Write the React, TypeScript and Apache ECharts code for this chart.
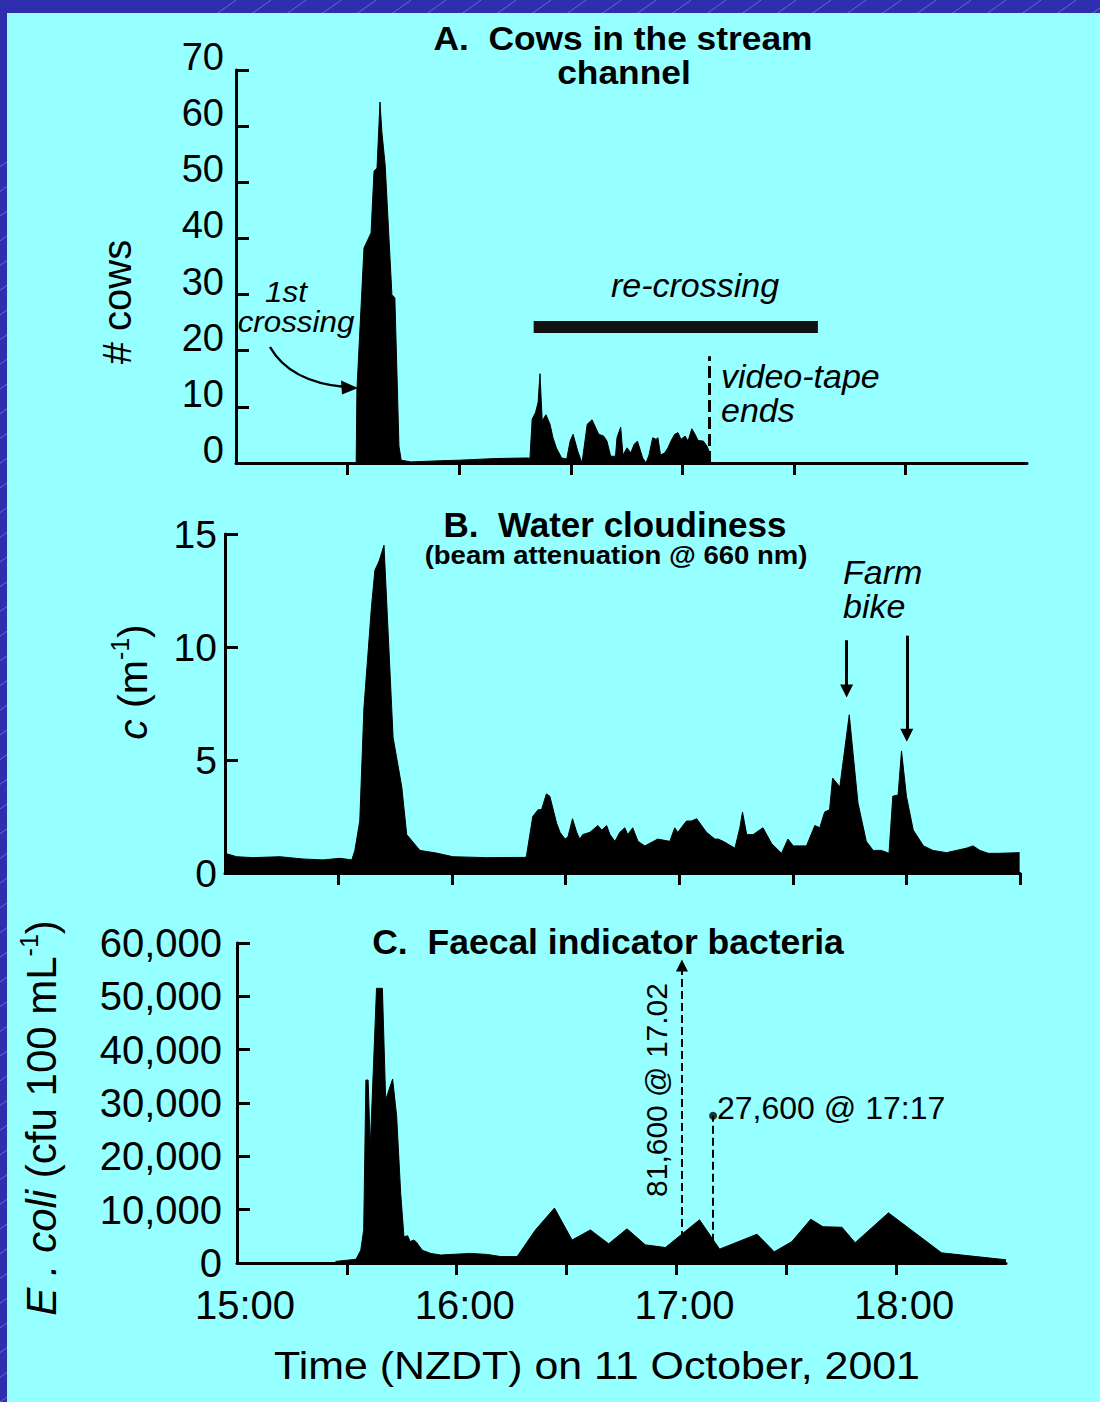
import React, { useEffect, useRef } from 'react';
import * as echarts from 'echarts';

// ---------- DATA (minutes after 15:00) ----------
// A. Cows in the stream channel
const cowsMinutes = [32.0, 32.3, 32.5, 34.4, 36.3, 37.1, 37.9, 38.7, 39.2, 40.1, 41.9, 42.7, 43.8, 44.4, 47, 55, 60, 70, 78.5, 79.0, 79.6, 80.5, 81.2, 81.7, 82.3, 83.3, 84.4, 85.2, 86.1, 87.5, 88.9, 89.8, 90.6, 91.9, 93.0, 94.4, 95.7, 97.5, 98.8, 99.7, 100.7, 102.0, 102.4, 103.4, 104.0, 105.1, 106.1, 107.0, 107.9, 109.3, 110.2, 111.0, 112.0, 112.9, 113.4, 114.1, 115.2, 116.1, 116.9, 117.9, 118.8, 119.6, 120.7, 121.5, 122.5, 123.4, 124.2, 125.6, 126.6, 127.2, 127.4];
const cowsCount = [0, 0, 13, 38.3, 41, 52, 52.5, 64.3, 59, 53, 30, 29.4, 3, 0.5, 0.2, 0.4, 0.5, 0.8, 0.9, 0.8, 7.8, 9, 10.8, 15.9, 7.5, 8.6, 6.9, 4.5, 2.7, 0.9, 0.7, 3.9, 5.1, 2, 0, 6.9, 7.7, 5.1, 4.8, 3.9, 1.2, 1.2, 4.5, 6.4, 1.4, 2.7, 1.8, 3.3, 3.9, 0.9, 0, 1.4, 4.5, 4.2, 4.5, 1.4, 1.8, 2.7, 3.9, 5.1, 5.4, 4.2, 4.8, 3.9, 6.1, 5.1, 4.0, 3.9, 3.0, 2.0, 0];
const recrossStart = 80;
const recrossEnd = 156.4;
const recrossLevel = 24.2;
const videoEndMin = 127.2;
const videoLineTop = 19;

// B. Water cloudiness
const cMinutes = [0, 3.1, 7.4, 14.5, 20.6, 25.9, 30.4, 33.5, 34.3, 35.6, 36.7, 38.7, 39.6, 40.7, 42.0, 44.4, 46.7, 48.0, 51.5, 55.9, 60.2, 69.1, 79.2, 79.6, 81.3, 82.7, 83.6, 84.9, 85.8, 87.6, 88.5, 89.8, 90.6, 91.8, 92.9, 93.7, 94.5, 96.4, 98.5, 99.5, 100.8, 101.7, 103.0, 104.3, 105.6, 106.4, 107.7, 109.1, 110.9, 114.3, 117.5, 118.8, 119.6, 121.9, 123.2, 124.6, 127.2, 129.4, 130.3, 131.6, 134.7, 136.0, 136.7, 137.8, 139.5, 142.1, 144.4, 147.0, 148.7, 150.1, 151.8, 153.6, 155.8, 157.1, 158.4, 159.7, 160.5, 161.5, 162.4, 164.9, 165.9, 167.2, 169.4, 171.2, 173.4, 175.4, 176.4, 177.8, 178.7, 180.0, 181.8, 184.5, 187.0, 190.6, 193.2, 195.9, 197.6, 199.4, 201.6, 204.2, 209.9];
const cValues = [0.87, 0.72, 0.68, 0.72, 0.62, 0.58, 0.65, 0.58, 1.0, 2.3, 7.3, 11.8, 13.4, 13.8, 14.5, 6.0, 3.8, 1.7, 1.0, 0.88, 0.72, 0.68, 0.69, 0.72, 2.5, 2.8, 2.8, 3.5, 3.4, 2.2, 1.8, 1.5, 1.6, 2.4, 1.8, 1.5, 1.7, 1.8, 2.1, 1.9, 2.1, 1.7, 1.4, 1.8, 2.0, 1.7, 2.0, 1.4, 1.2, 1.5, 1.4, 2.0, 1.8, 2.3, 2.3, 2.4, 1.8, 1.5, 1.5, 1.4, 1.1, 2.0, 2.7, 1.7, 1.7, 2.0, 1.3, 0.87, 1.5, 1.2, 1.2, 1.2, 2.1, 2.0, 2.7, 2.8, 4.2, 4.0, 3.8, 7.0, 5.3, 3.1, 1.4, 1.0, 1.0, 0.87, 3.4, 3.45, 5.4, 3.4, 1.9, 1.2, 1.0, 0.9, 1.0, 1.1, 1.2, 1.0, 0.87, 0.87, 0.9];
const farmBike1 = { min: 164.2, from: 10.3, to: 8.05 };
const farmBike2 = { min: 180.1, from: 10.5, to: 6.1 };

// C. Faecal indicator bacteria (E. coli, cfu per 100 mL)
const ecoliMinutes = [26.8, 27.0, 32.5, 33.8, 34.6, 35.2, 35.8, 36.4, 38.1, 39.7, 40.6, 42.5, 43.6, 44.7, 45.6, 46.6, 47.3, 48.2, 48.9, 50.6, 52.9, 55.6, 63.8, 68.4, 72.0, 76.5, 81.5, 86.7, 91.5, 96.5, 101.5, 106.5, 111.5, 117.0, 126.3, 131.8, 142.0, 146.7, 151.5, 156.7, 160.0, 165.2, 168.8, 177.9, 192.4, 210];
const ecoliCounts = [0, 300, 700, 2400, 6200, 34300, 34300, 21800, 51500, 51500, 30600, 34500, 27500, 13100, 4900, 5100, 4000, 4300, 4000, 2400, 1800, 1500, 1800, 1600, 1200, 1200, 6200, 10300, 4300, 6200, 3600, 6400, 3400, 2900, 8100, 2600, 5400, 2100, 4000, 8200, 6800, 6700, 3800, 9400, 1900, 600];
const offScaleMin = 121.5; // 81,600 @ 17:02
const offScaleArrowTop = 55800;
const point1717 = [130, 27600];
const point1717LineBase = 4000;

// axis ticks / labels
const tickMinutesAC = [30, 60, 90, 120, 150, 180];
const tickMinutesB = [30, 60, 90, 120, 150, 180, 210];
const hourLabelMinutes = [0, 60, 120, 180];
const hourLabels = ['15:00', '16:00', '17:00', '18:00'];

const FONT = '"Liberation Sans", Arial, Helvetica, sans-serif';
const BLACK = '#000';

const zip = (xs: number[], ys: number[]) =>
  xs.slice(0, Math.min(xs.length, ys.length)).map((x, i) => [x, ys[i]]);

function xAxisCfg(gridIndex: number, max: number, ticks: number[], showLabels: boolean) {
  return {
    type: 'value',
    gridIndex,
    min: 0,
    max,
    splitLine: { show: false },
    axisLine: { show: true, onZero: false, lineStyle: { color: BLACK, width: 3 } },
    axisTick: { show: true, customValues: ticks, length: 12, inside: false, lineStyle: { color: BLACK, width: 3 } },
    axisLabel: showLabels
      ? {
          show: true,
          customValues: hourLabelMinutes,
          formatter: (v: number) => hourLabels[hourLabelMinutes.indexOf(Math.round(v))] ?? '',
          fontSize: 40,
          fontFamily: FONT,
          color: BLACK,
          margin: 22,
          padding: [0, 0, 0, 16],
        }
      : { show: false },
  };
}

function yAxisCfg(gridIndex: number, max: number, interval: number, labelCfg: any) {
  return {
    type: 'value',
    gridIndex,
    min: 0,
    max,
    interval,
    splitLine: { show: false },
    axisLine: { show: true, lineStyle: { color: BLACK, width: 3 } },
    axisTick: { show: true, inside: true, length: 13, lineStyle: { color: BLACK, width: 3 } },
    axisLabel: { show: true, fontFamily: FONT, color: BLACK, ...labelCfg },
  };
}

function areaSeries(idx: number, data: number[][], extra: any = {}) {
  return {
    type: 'line',
    xAxisIndex: idx,
    yAxisIndex: idx,
    data,
    symbol: 'none',
    silent: true,
    lineStyle: { color: BLACK, width: 1 },
    areaStyle: { color: BLACK, opacity: 1 },
    emphasis: { disabled: true },
    ...extra,
  };
}

function txt(text: string, x: number, y: number, opts: any = {}) {
  const { rotation, scaleX, ...style } = opts;
  return {
    type: 'text',
    x,
    y,
    rotation: rotation ?? 0,
    scaleX: scaleX ?? 1,
    silent: true,
    z: 50,
    style: {
      text,
      fill: BLACK,
      fontFamily: FONT,
      fontSize: 34,
      align: 'center',
      verticalAlign: 'middle',
      ...style,
    },
  };
}

const supRich = (size: number) => ({
  i: { fontStyle: 'italic', fontSize: size, fontFamily: FONT, lineHeight: 46, verticalAlign: 'bottom' },
  n: { fontSize: size, fontFamily: FONT, lineHeight: 46, verticalAlign: 'bottom' },
  s: { fontSize: 25, fontFamily: FONT, lineHeight: 46, verticalAlign: 'top' },
});

function buildOption() {
  // background stripes (decorative)
  const stripes: any[] = [];
  for (let k = -50; k < 40; k++) {
    const x0 = k * 35;
    stripes.push({
      type: 'line',
      silent: true,
      z: -101,
      shape: { x1: x0, y1: 1402, x2: x0 + (1402 * 17) / 12, y2: 0 },
      style: { stroke: 'rgba(175,175,255,0.45)', lineWidth: 1 },
    });
  }

  const graphic: any[] = [
    { type: 'rect', silent: true, z: -102, shape: { x: 0, y: 0, width: 1100, height: 1402 }, style: { fill: '#2E2EAE' } },
    ...stripes,
    { type: 'rect', silent: true, z: -100, shape: { x: 7, y: 13, width: 1093, height: 1389 }, style: { fill: '#96FFFF' } },

    // Panel A
    txt('A.  Cows in the stream', 623, 38, { fontWeight: 'bold', fontSize: 34, scaleX: 1.04 }),
    txt('channel', 624, 72, { fontWeight: 'bold', fontSize: 34, scaleX: 1.04 }),
    txt('1st', 286, 292, { fontStyle: 'italic', fontSize: 29, scaleX: 1.08 }),
    txt('crossing', 296, 322, { fontStyle: 'italic', fontSize: 29, scaleX: 1.08 }),
    {
      type: 'bezierCurve',
      silent: true,
      z: 50,
      shape: { x1: 270, y1: 347, cpx1: 290, cpy1: 382, x2: 345, y2: 387 },
      style: { stroke: BLACK, lineWidth: 2.5, fill: 'none' },
    },
    { type: 'polygon', silent: true, z: 50, shape: { points: [[358, 388], [341, 380.5], [342, 394.5]] }, style: { fill: BLACK } },
    txt('re-crossing', 695, 285, { fontStyle: 'italic', fontSize: 34 }),
    txt('video-tape\nends', 721, 393, { fontStyle: 'italic', fontSize: 34, lineHeight: 34, align: 'left' }),
    txt('# cows', 117, 302, { fontSize: 40, rotation: Math.PI / 2 }),

    // Panel B
    txt('B.  Water cloudiness', 615, 524, { fontWeight: 'bold', fontSize: 35 }),
    txt('(beam attenuation @ 660 nm)', 616, 555, { fontWeight: 'bold', fontSize: 25, scaleX: 1.1 }),
    txt('Farm\nbike', 843, 589, { fontStyle: 'italic', fontSize: 34, lineHeight: 34, align: 'left' }),
    txt('{i|c} {n|(m}{s|-1}{n|)}', 130, 682, { rotation: Math.PI / 2, fontSize: 41, rich: supRich(41) }),

    // Panel C
    txt('C.  Faecal indicator bacteria', 608, 942, { fontWeight: 'bold', fontSize: 35.5 }),
    txt('81,600 @ 17.02', 656, 1090, { fontSize: 30, rotation: Math.PI / 2 }),
    txt('27,600 @ 17:17', 717, 1108, { fontSize: 32, align: 'left' }),
    txt('{i|E . coli} {n|(cfu 100 mL}{s|-1}{n|)}', 39, 1118, { rotation: Math.PI / 2, fontSize: 42, rich: supRich(42) }),
    txt('Time (NZDT) on 11 October, 2001', 597, 1366, { fontSize: 39, scaleX: 1.1 }),
  ];

  return {
    animation: false,
    backgroundColor: 'transparent',
    textStyle: { fontFamily: FONT },
    grid: [
      { left: 236, top: 70, width: 791, height: 393 },
      { left: 225, top: 534, width: 795, height: 339 },
      { left: 237, top: 943, width: 769, height: 320 },
    ],
    xAxis: [
      xAxisCfg(0, 212.6, tickMinutesAC, false),
      xAxisCfg(1, 210, tickMinutesB, false),
      xAxisCfg(2, 210, tickMinutesAC, true),
    ],
    yAxis: [
      yAxisCfg(0, 70, 10, { fontSize: 38, margin: 12, verticalAlign: 'bottom', lineHeight: 26 }),
      yAxisCfg(1, 15, 5, { fontSize: 39, margin: 8 }),
      yAxisCfg(2, 60000, 10000, {
        fontSize: 40,
        margin: 15,
        formatter: (v: number) => v.toLocaleString('en-US'),
      }),
    ],
    graphic,
    series: [
      areaSeries(0, zip(cowsMinutes, cowsCount), {
        markLine: {
          silent: true,
          animation: false,
          symbol: ['none', 'none'],
          label: { show: false },
          emphasis: { disabled: true },
          data: [
            [
              { coord: [recrossStart, recrossLevel], lineStyle: { color: '#111', width: 12, type: 'solid' } },
              { coord: [recrossEnd, recrossLevel] },
            ],
            [
              { coord: [videoEndMin, 0], lineStyle: { color: BLACK, width: 3, type: [12, 5] } },
              { coord: [videoEndMin, videoLineTop] },
            ],
          ],
        },
      }),
      areaSeries(1, zip(cMinutes, cValues), {
        markLine: {
          silent: true,
          animation: false,
          symbol: ['none', 'none'],
          label: { show: false },
          emphasis: { disabled: true },
          lineStyle: { color: BLACK, width: 3, type: 'solid' },
          data: [
            [
              { coord: [farmBike1.min, farmBike1.from], symbol: 'none' },
              { coord: [farmBike1.min, farmBike1.to], symbol: 'triangle', symbolSize: 13 },
            ],
            [
              { coord: [farmBike2.min, farmBike2.from], symbol: 'none' },
              { coord: [farmBike2.min, farmBike2.to], symbol: 'triangle', symbolSize: 13 },
            ],
          ],
        },
      }),
      areaSeries(2, zip(ecoliMinutes, ecoliCounts), {
        markLine: {
          silent: true,
          animation: false,
          symbol: ['none', 'none'],
          label: { show: false },
          emphasis: { disabled: true },
          data: [
            [
              { coord: [offScaleMin, 0], symbol: 'none', lineStyle: { color: BLACK, width: 2, type: [8, 4] } },
              { coord: [offScaleMin, offScaleArrowTop], symbol: 'triangle', symbolSize: 12 },
            ],
            [
              { coord: [point1717[0], point1717LineBase], lineStyle: { color: BLACK, width: 2, type: [8, 4] } },
              { coord: [point1717[0], point1717[1]] },
            ],
          ],
        },
      }),
      {
        type: 'scatter',
        xAxisIndex: 2,
        yAxisIndex: 2,
        data: [point1717],
        symbol: 'circle',
        symbolSize: 8,
        silent: true,
        itemStyle: { color: BLACK },
        emphasis: { disabled: true },
        z: 5,
      },
    ],
  };
}

export default function App() {
  const ref = useRef<HTMLDivElement>(null);
  useEffect(() => {
    if (!ref.current) return;
    const chart = echarts.init(ref.current, undefined, { renderer: 'svg' });
    chart.setOption(buildOption() as any);
    return () => chart.dispose();
  }, []);
  return (
    <div
      ref={ref}
      style={{ position: 'absolute', left: 0, top: 0, width: 1100, height: 1402 }}
    />
  );
}
